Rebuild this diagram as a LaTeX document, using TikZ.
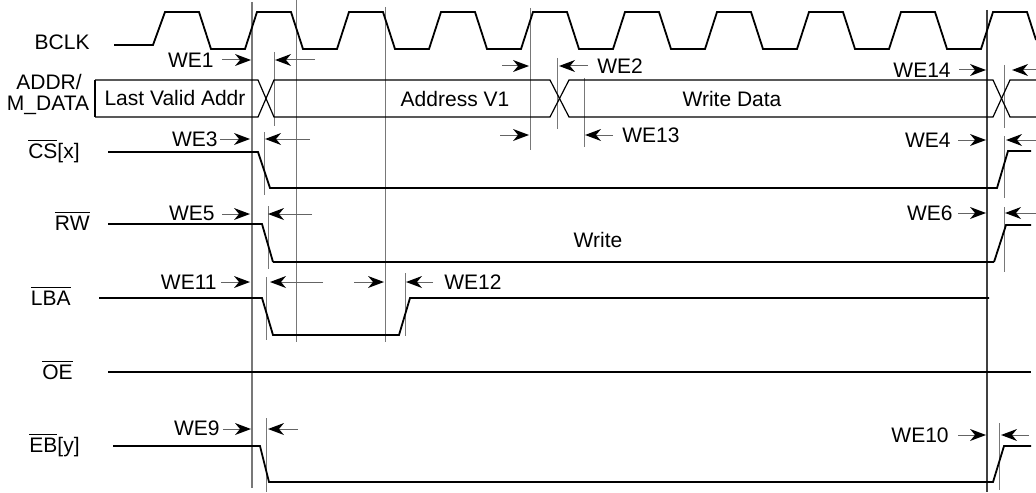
\documentclass[tikz,border=0pt]{standalone}
\usepackage{fontspec}
\setmainfont{Liberation Sans}
\usepackage{tikz}
\usetikzlibrary{arrows}
\definecolor{guide}{RGB}{120,120,120}
\definecolor{shaftgray}{RGB}{100,100,100}

\begin{document}
\begin{tikzpicture}[x=0.5pt,y=-0.5pt]
\tikzstyle{every node}+=[inner sep=0pt,font=\fontsize{10.5}{12}\selectfont]
\tikzstyle{sig}=[black,line width=0.9pt,line join=miter]
\tikzstyle{bus}=[black,line width=0.6pt]
\tikzstyle{tick}=[guide,line width=0.5pt]
\tikzstyle{shaft}=[shaftgray,line width=0.5pt]
\useasboundingbox (0,0) rectangle (1036,492);
% signal names
\node (bclk) [anchor=base east] at (90,50) {BCLK};
\node (addr) [anchor=base] at (49,90) {ADDR/};
\node (mdata) [anchor=base] at (48,111) {M\_DATA};
\node (cs) [anchor=base east] at (80,158) {$\overline{\mbox{CS}}$[x]};
\node (rw) [anchor=base east] at (90,230) {$\overline{\mbox{RW}}$};
\node (lba) [anchor=base east] at (71,305) {$\overline{\mbox{LBA}}$};
\node (oe) [anchor=base east] at (73,379) {$\overline{\mbox{OE}}$};
\node (eb) [anchor=base east] at (80,452) {$\overline{\mbox{EB}}$[y]};
% guide lines
\draw [guide,line width=1pt] (252,2) -- (252,488);
\draw [tick] (296,0) -- (296,342);
\draw [tick] (385,7) -- (385,342);
\draw [tick] (530,8) -- (530,150);
\draw [black!75,line width=0.6pt] (987,10) -- (987,492);
\draw [tick] (274,52) -- (274,126);
\draw [tick] (264,132) -- (264,195);
\draw [tick] (268,206) -- (268,269);
\draw [tick] (266,277) -- (266,340);
\draw [tick] (266,418) -- (266,492);
\draw [tick] (405,273) -- (405,336);
\draw [tick] (557,58) -- (557,129);
\draw [tick] (584,78) -- (584,147);
\draw [tick] (1004,65) -- (1004,128);
\draw [tick] (1004,136) -- (1004,198);
\draw [tick] (1004,207) -- (1004,272);
\draw [tick] (999,423) -- (999,490);
% BCLK
\draw [sig] (114,45) -- (153,45) -- (165,12) -- (199,12) -- (211,49) -- (245,49)
 -- (257,12) -- (291,12) -- (303,49) -- (337,49) -- (349,12) -- (383,12) -- (395,49)
 -- (429,49) -- (441,12) -- (475,12) -- (487,49) -- (521,49) -- (533,12) -- (567,12)
 -- (579,49) -- (613,49) -- (625,12) -- (659,12) -- (671,49) -- (705,49) -- (717,12)
 -- (751,12) -- (763,49) -- (797,49) -- (809,12) -- (843,12) -- (855,49) -- (889,49)
 -- (901,12) -- (935,12) -- (947,49) -- (981,49) -- (993,12) -- (1027,12) -- (1036,40);
% ADDR/M_DATA
\draw [bus] (95,80) -- (258,80) -- (274,117) -- (550,117) -- (569,80) -- (993,80) -- (1010,117) -- (1036,117);
\draw [bus] (95,117) -- (258,117) -- (274,80) -- (550,80) -- (569,117) -- (993,117) -- (1010,80) -- (1036,80);
\draw [bus] (95,80) -- (95,117);
\node (lastaddr) at (175,98) {Last Valid Addr};
\node (addrv1) at (455,99) {Address V1};
\node (wrdata) at (732,99) {Write Data};
% CS, RW, LBA, OE, EB
\draw [sig] (108,152) -- (258,152) -- (270,188) -- (997,188) -- (1008,151) -- (1031,151);
\draw [sig] (108,224) -- (262,224) -- (273,262);
\draw [black,line width=1.3pt] (273,262) -- (994,262);
\draw [sig] (994,262) -- (1006,225) -- (1031,225);
\node (write) at (598,240) {Write};
\draw [sig] (99,298) -- (262,298) -- (273,335) -- (399,335) -- (410,298) -- (989,298);
\draw [sig] (108,372) -- (1031,372);
\draw [sig] (113,446) -- (260,446) -- (269,482) -- (993,482) -- (1004,446) -- (1031,446);
% timing labels
\node (we1) [anchor=east] at (214,60) {WE1};
\node (we3) [anchor=east] at (218,139) {WE3};
\node (we5) [anchor=east] at (215,213) {WE5};
\node (we11) [anchor=east] at (217,282) {WE11};
\node (we12) [anchor=west] at (444,282) {WE12};
\node (we9) [anchor=east] at (220,428) {WE9};
\node (we2) [anchor=west] at (597,66) {WE2};
\node (we13) [anchor=west] at (622,135) {WE13};
\node (we14) [anchor=east] at (951,70) {WE14};
\node (we4) [anchor=east] at (951,140) {WE4};
\node (we6) [anchor=east] at (953,213) {WE6};
\node (we10) [anchor=east] at (949,435) {WE10};
% arrows
\draw [shaft] (222,60) -- (240,60);
\fill [black] (251,60) -- (235,54) -- (240,60) -- (235,66) -- cycle;
\draw [shaft] (315,60) -- (286,60);
\fill [black] (275,60) -- (291,54) -- (286,60) -- (291,66) -- cycle;
\draw [shaft] (220,139) -- (239,139);
\fill [black] (250,139) -- (234,133) -- (239,139) -- (234,145) -- cycle;
\draw [shaft] (310,139) -- (276,139);
\fill [black] (265,139) -- (281,133) -- (276,139) -- (281,145) -- cycle;
\draw [shaft] (222,214) -- (239,214);
\fill [black] (250,214) -- (234,208) -- (239,214) -- (234,220) -- cycle;
\draw [shaft] (312,214) -- (279,214);
\fill [black] (268,214) -- (284,208) -- (279,214) -- (284,220) -- cycle;
\draw [shaft] (221,282) -- (239,282);
\fill [black] (250,282) -- (234,276) -- (239,282) -- (234,288) -- cycle;
\draw [shaft] (323,282) -- (281,282);
\fill [black] (270,282) -- (286,276) -- (281,282) -- (286,288) -- cycle;
\draw [shaft] (354,282) -- (373,282);
\fill [black] (384,282) -- (368,276) -- (373,282) -- (368,288) -- cycle;
\draw [shaft] (433,282) -- (417,282);
\fill [black] (406,282) -- (422,276) -- (417,282) -- (422,288) -- cycle;
\draw [shaft] (223,429) -- (240,429);
\fill [black] (251,429) -- (235,423) -- (240,429) -- (235,435) -- cycle;
\draw [shaft] (298,429) -- (279,429);
\fill [black] (268,429) -- (284,423) -- (279,429) -- (284,435) -- cycle;
\draw [shaft] (502,66) -- (518,66);
\fill [black] (529,66) -- (513,60) -- (518,66) -- (513,72) -- cycle;
\draw [shaft] (588,66) -- (570,66);
\fill [black] (559,66) -- (575,60) -- (570,66) -- (575,72) -- cycle;
\draw [shaft] (500,135) -- (518,135);
\fill [black] (529,135) -- (513,129) -- (518,135) -- (513,141) -- cycle;
\draw [shaft] (613,135) -- (596,135);
\fill [black] (585,135) -- (601,129) -- (596,135) -- (601,141) -- cycle;
\draw [shaft] (959,70) -- (975,70);
\fill [black] (986,70) -- (970,64) -- (975,70) -- (970,76) -- cycle;
\draw [shaft] (1036,70) -- (1023,70);
\fill [black] (1012,70) -- (1028,64) -- (1023,70) -- (1028,76) -- cycle;
\draw [shaft] (958,140) -- (975,140);
\fill [black] (986,140) -- (970,134) -- (975,140) -- (970,146) -- cycle;
\draw [shaft] (1036,140) -- (1017,140);
\fill [black] (1006,140) -- (1022,134) -- (1017,140) -- (1022,146) -- cycle;
\draw [shaft] (958,213) -- (975,213);
\fill [black] (986,213) -- (970,207) -- (975,213) -- (970,219) -- cycle;
\draw [shaft] (1036,213) -- (1016,213);
\fill [black] (1005,213) -- (1021,207) -- (1016,213) -- (1021,219) -- cycle;
\draw [shaft] (958,435) -- (975,435);
\fill [black] (986,435) -- (970,429) -- (975,435) -- (970,441) -- cycle;
\draw [shaft] (1029,435) -- (1012,435);
\fill [black] (1001,435) -- (1017,429) -- (1012,435) -- (1017,441) -- cycle;
\end{tikzpicture}
\end{document}
